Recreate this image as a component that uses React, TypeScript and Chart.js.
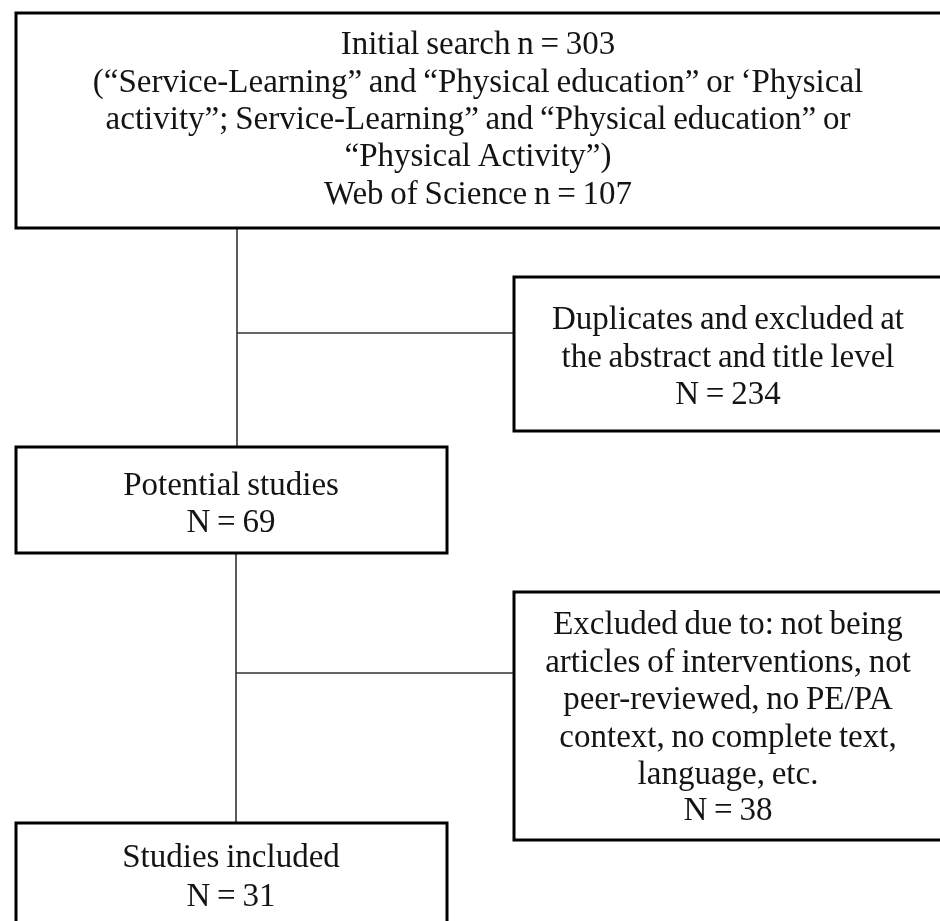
import React, { useEffect, useRef } from "react";
import { Chart, registerables } from "chart.js";

Chart.register(...registerables);

// Flowchart content (values in chart units: x 0..940, y 0..921 top-down)
const boxLeft = [16, 514, 16, 514, 16];
const boxRight = [942, 942, 447, 942, 447];
const boxTop = [13, 277, 447, 592, 823];
const boxBottom = [228, 431, 553, 840, 935];
const boxLines: string[][] = [
  [
    "Initial search n = 303",
    "(\u201cService-Learning\u201d and \u201cPhysical education\u201d or \u2018Physical",
    "activity\u201d; Service-Learning\u201d and \u201cPhysical education\u201d or",
    "\u201cPhysical Activity\u201d)",
    "Web of Science n = 107",
  ],
  ["Duplicates and excluded at", "the abstract and title level", "N = 234"],
  ["Potential studies", "N = 69"],
  [
    "Excluded due to: not being",
    "articles of interventions, not",
    "peer-reviewed, no PE/PA",
    "context, no complete text,",
    "language, etc.",
    "N = 38",
  ],
  ["Studies included", "N = 31"],
];
const boxCenterX = [478, 728, 231, 728, 231];
const boxLineY: number[][] = [
  [45, 83, 120, 157, 195],
  [320, 358, 395],
  [486, 523],
  [625, 663, 700, 738, 775, 811],
  [858, 897],
];

// Connector segments
const connX1 = [237, 237, 236, 236];
const connY1 = [228, 333, 553, 673];
const connX2 = [237, 514, 236, 514];
const connY2 = [447, 333, 823, 673];

const flowPlugin = {
  id: "flowBoxes",
  afterDatasetsDraw(chart: any) {
    const ctx = chart.ctx as any;
    const xs = chart.scales.x;
    const ys = chart.scales.y;
    ctx.save();
    for (let i = 0; i < boxLeft.length; i++) {
      const l = xs.getPixelForValue(boxLeft[i]);
      const r = xs.getPixelForValue(boxRight[i]);
      const t = ys.getPixelForValue(boxTop[i]);
      const b = ys.getPixelForValue(boxBottom[i]);
      ctx.fillStyle = "#ffffff";
      ctx.fillRect(l, t, r - l, b - t);
      ctx.strokeStyle = "#000000";
      ctx.lineWidth = 3;
      ctx.strokeRect(l, t, r - l, b - t);
      ctx.fillStyle = "#141414";
      ctx.font = '33px "Liberation Serif", "Times New Roman", serif';
      if ("wordSpacing" in ctx) ctx.wordSpacing = "-1.5px";
      ctx.textAlign = "center";
      ctx.textBaseline = "middle";
      const cx = xs.getPixelForValue(boxCenterX[i]);
      boxLines[i].forEach((line, j) => {
        ctx.fillText(line, cx, ys.getPixelForValue(boxLineY[i][j]));
      });
    }
    ctx.restore();
  },
};

export default function App() {
  const ref = useRef<HTMLCanvasElement | null>(null);
  useEffect(() => {
    if (!ref.current) return;
    const datasets = connX1.map((_, i) => ({
      type: "line" as const,
      data: [
        { x: connX1[i], y: connY1[i] },
        { x: connX2[i], y: connY2[i] },
      ],
      borderColor: "#333333",
      borderWidth: 1.6,
      pointRadius: 0,
      fill: false,
      showLine: true,
    }));
    const chart = new Chart(ref.current, {
      type: "scatter",
      data: { datasets },
      options: {
        animation: false,
        responsive: false,
        maintainAspectRatio: false,
        layout: { padding: 0 },
        plugins: {
          legend: { display: false },
          tooltip: { enabled: false },
          title: { display: false },
        },
        scales: {
          x: { type: "linear", min: 0, max: 940, display: false },
          y: { type: "linear", min: 0, max: 921, reverse: true, display: false },
        },
      },
      plugins: [flowPlugin],
    } as any);
    return () => chart.destroy();
  }, []);
  return (
    <div
      style={{
        position: "absolute",
        left: 0,
        top: 0,
        width: 940,
        height: 921,
        background: "#ffffff",
      }}
    >
      <canvas ref={ref} width={940} height={921} style={{ display: "block" }} />
    </div>
  );
}
